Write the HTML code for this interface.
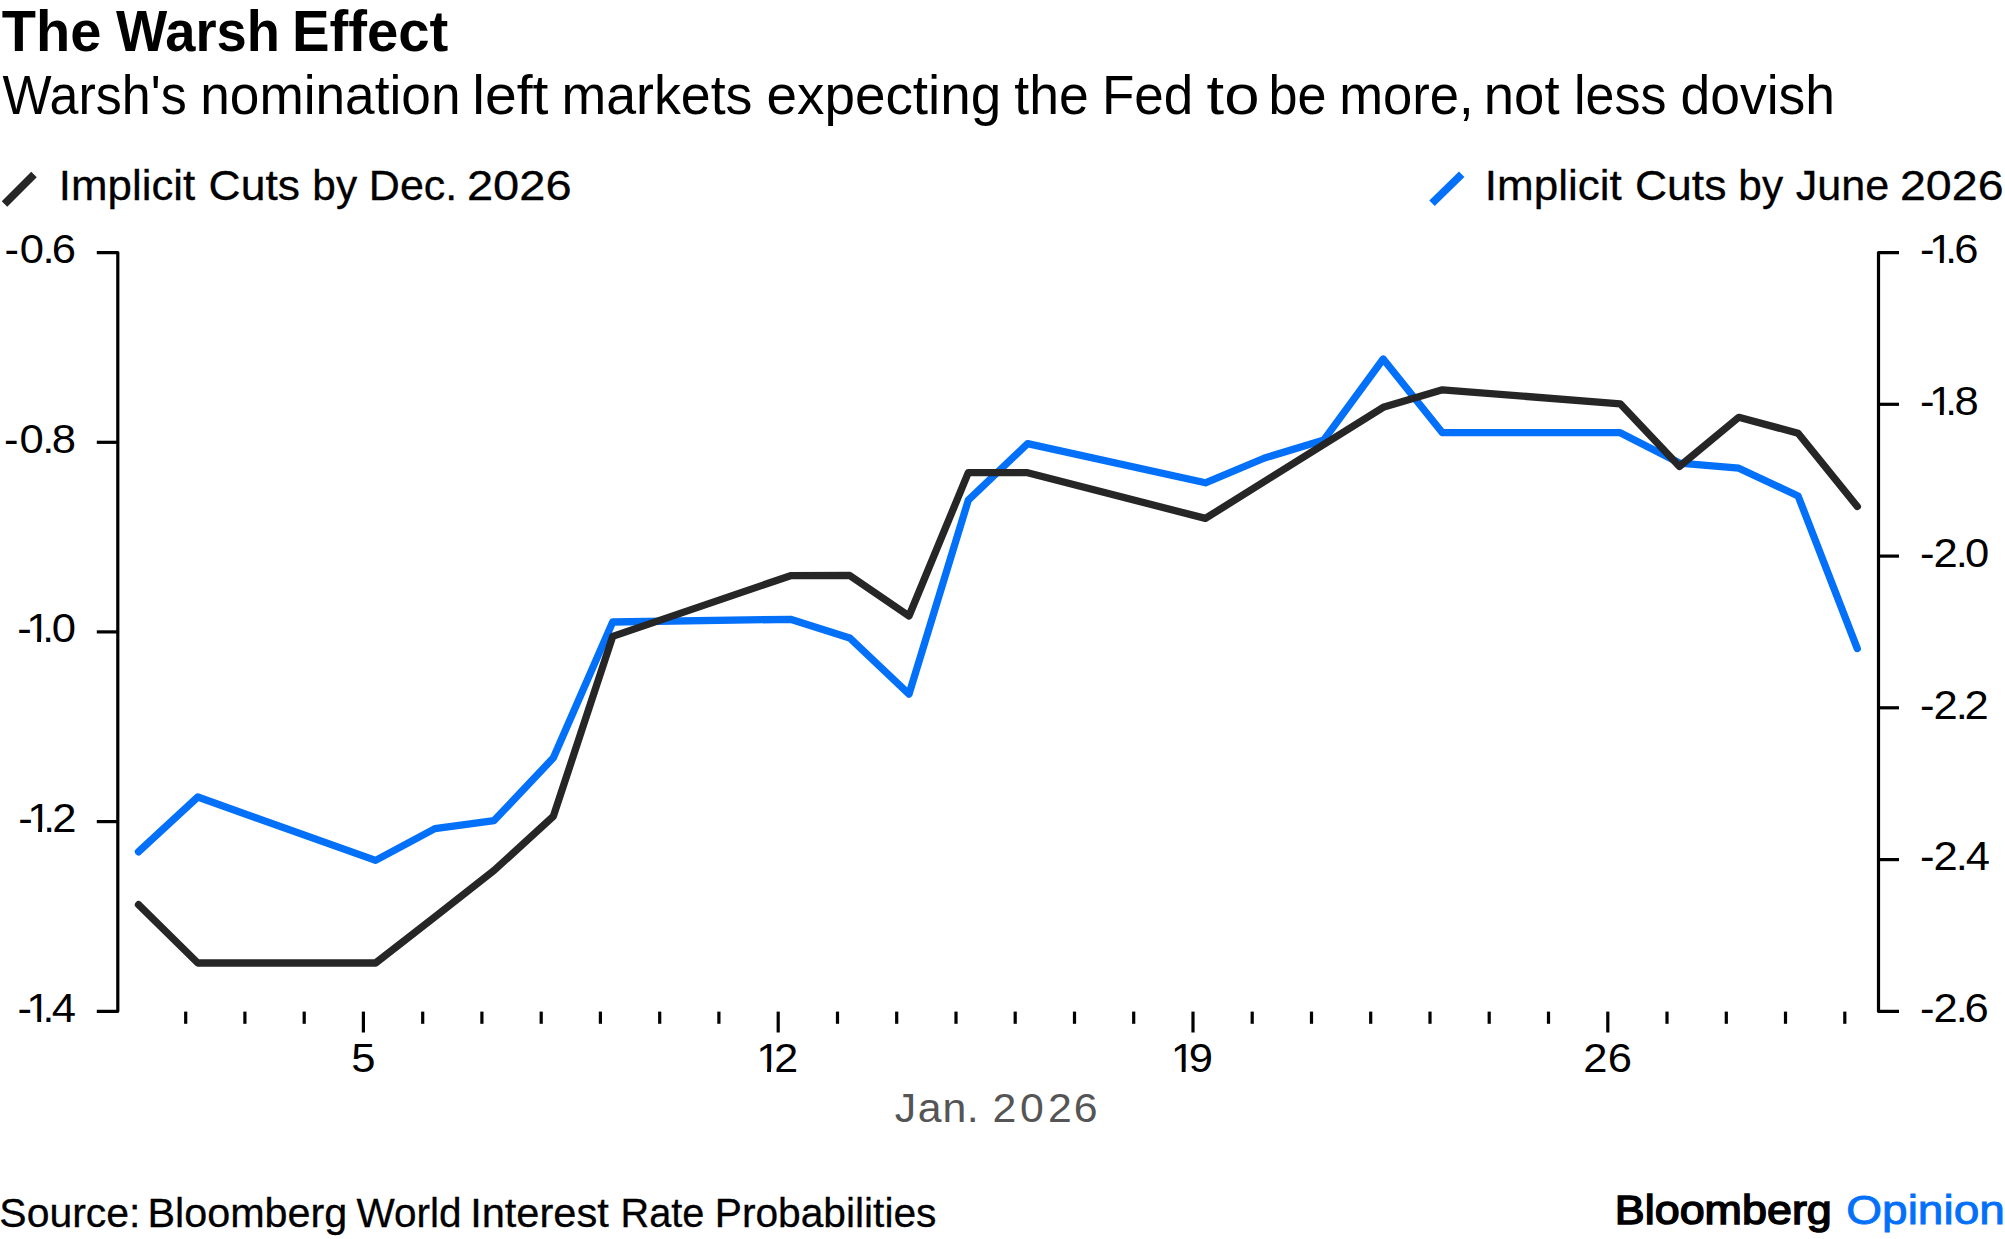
<!DOCTYPE html>
<html lang="en"><head><meta charset="utf-8"><title>The Warsh Effect</title>
<style>
html,body{margin:0;padding:0;background:#fff;}
body{width:2005px;height:1239px;overflow:hidden;}
svg{display:block;font-family:"Liberation Sans",Arial,Helvetica,sans-serif;}
.t{fill:#000;}
.k{fill:#000;font-size:40px;}
</style></head><body>
<svg width="2005" height="1239" viewBox="0 0 2005 1239">
<rect width="2005" height="1239" fill="#fff"/>
<text fill="#000" y="50.8" font-size="57" font-weight="700"><tspan x="1.77" textLength="99.54" lengthAdjust="spacingAndGlyphs">The</tspan> <tspan x="116.05" textLength="163.82" lengthAdjust="spacingAndGlyphs">Warsh</tspan> <tspan x="291.93" textLength="156.45" lengthAdjust="spacingAndGlyphs">Effect</tspan></text>
<text fill="#000" y="114.0" font-size="54.6"><tspan x="2.47" textLength="184.21" lengthAdjust="spacingAndGlyphs">Warsh's</tspan> <tspan x="200.27" textLength="260.19" lengthAdjust="spacingAndGlyphs">nomination</tspan> <tspan x="472.25" textLength="76.17" lengthAdjust="spacingAndGlyphs">left</tspan> <tspan x="561.43" textLength="191.01" lengthAdjust="spacingAndGlyphs">markets</tspan> <tspan x="766.47" textLength="234.77" lengthAdjust="spacingAndGlyphs">expecting</tspan> <tspan x="1014.29" textLength="74.39" lengthAdjust="spacingAndGlyphs">the</tspan> <tspan x="1101.96" textLength="91.26" lengthAdjust="spacingAndGlyphs">Fed</tspan> <tspan x="1206.54" textLength="52.93" lengthAdjust="spacingAndGlyphs">to</tspan> <tspan x="1268.53" textLength="58.09" lengthAdjust="spacingAndGlyphs">be</tspan> <tspan x="1339.21" textLength="134.52" lengthAdjust="spacingAndGlyphs">more,</tspan> <tspan x="1483.78" textLength="75.82" lengthAdjust="spacingAndGlyphs">not</tspan> <tspan x="1574.10" textLength="92.27" lengthAdjust="spacingAndGlyphs">less</tspan> <tspan x="1680.56" textLength="154.41" lengthAdjust="spacingAndGlyphs">dovish</tspan></text>
<line x1="4.5" y1="203.9" x2="34" y2="174.4" stroke="#262626" stroke-width="7.8"/>
<text fill="#000" y="200.2" font-size="43" stroke="#000" stroke-width="0.3"><tspan x="58.85" textLength="136.47" lengthAdjust="spacingAndGlyphs">Implicit</tspan> <tspan x="208.64" textLength="91.36" lengthAdjust="spacingAndGlyphs">Cuts</tspan> <tspan x="312.37" textLength="44.71" lengthAdjust="spacingAndGlyphs">by</tspan> <tspan x="368.87" textLength="88.46" lengthAdjust="spacingAndGlyphs">Dec.</tspan> <tspan x="466.93" textLength="104.63" lengthAdjust="spacingAndGlyphs">2026</tspan></text>
<line x1="1432" y1="203.3" x2="1461.7" y2="174.3" stroke="#0370fa" stroke-width="7.8"/>
<text fill="#000" y="200.2" font-size="43" stroke="#000" stroke-width="0.3"><tspan x="1484.84" textLength="136.99" lengthAdjust="spacingAndGlyphs">Implicit</tspan> <tspan x="1634.94" textLength="91.57" lengthAdjust="spacingAndGlyphs">Cuts</tspan> <tspan x="1738.37" textLength="44.71" lengthAdjust="spacingAndGlyphs">by</tspan> <tspan x="1795.73" textLength="93.39" lengthAdjust="spacingAndGlyphs">June</tspan> <tspan x="1899.96" textLength="103.59" lengthAdjust="spacingAndGlyphs">2026</tspan></text>
<g stroke="#000" stroke-width="3.2" fill="none" stroke-linejoin="round">
<path d="M96.8,252.6 H117.8 V1011.3 H96.8"/>
<path d="M1899.0,252.6 H1878.5 V1011.3 H1899.0"/>
<path d="M96.8,442.3 H117.8"/>
<path d="M96.8,631.9 H117.8"/>
<path d="M96.8,821.6 H117.8"/>
<path d="M1899.0,404.3 H1878.5"/>
<path d="M1899.0,556.1 H1878.5"/>
<path d="M1899.0,707.8 H1878.5"/>
<path d="M1899.0,859.6 H1878.5"/>
<path d="M185.7,1011.6 V1023.8"/>
<path d="M244.9,1011.6 V1023.8"/>
<path d="M304.2,1011.6 V1023.8"/>
<path d="M363.4,1011.6 V1032.5"/>
<path d="M422.7,1011.6 V1023.8"/>
<path d="M481.9,1011.6 V1023.8"/>
<path d="M541.2,1011.6 V1023.8"/>
<path d="M600.4,1011.6 V1023.8"/>
<path d="M659.7,1011.6 V1023.8"/>
<path d="M718.9,1011.6 V1023.8"/>
<path d="M778.2,1011.6 V1032.5"/>
<path d="M837.5,1011.6 V1023.8"/>
<path d="M896.7,1011.6 V1023.8"/>
<path d="M956.0,1011.6 V1023.8"/>
<path d="M1015.2,1011.6 V1023.8"/>
<path d="M1074.5,1011.6 V1023.8"/>
<path d="M1133.7,1011.6 V1023.8"/>
<path d="M1193.0,1011.6 V1032.5"/>
<path d="M1252.2,1011.6 V1023.8"/>
<path d="M1311.5,1011.6 V1023.8"/>
<path d="M1370.7,1011.6 V1023.8"/>
<path d="M1430.0,1011.6 V1023.8"/>
<path d="M1489.2,1011.6 V1023.8"/>
<path d="M1548.5,1011.6 V1023.8"/>
<path d="M1607.8,1011.6 V1032.5"/>
<path d="M1667.0,1011.6 V1023.8"/>
<path d="M1726.3,1011.6 V1023.8"/>
<path d="M1785.5,1011.6 V1023.8"/>
<path d="M1844.8,1011.6 V1023.8"/>
</g>
<text class="k" transform="translate(6.38,263.1) scale(1.09,1)" x="-1.78 12.38 33.23 41.73" y="0">-0.6</text>
<text class="k" transform="translate(6.04,452.8) scale(1.09,1)" x="-1.78 12.38 33.23 42.02" y="0">-0.8</text>
<text class="k" transform="translate(19.26,642.4) scale(1.09,1)" x="-1.78 6.34 20.84 29.72" y="0">-1.0</text>
<rect x="28.69" y="638.86" width="8.44" height="4.39" fill="#fff"/><rect x="40.98" y="638.86" width="5.28" height="4.39" fill="#fff"/>
<text class="k" transform="translate(20.24,832.1) scale(1.09,1)" x="-1.78 6.34 20.84 29.27" y="0">-1.2</text>
<rect x="29.66" y="828.54" width="8.44" height="4.39" fill="#fff"/><rect x="41.96" y="828.54" width="5.28" height="4.39" fill="#fff"/>
<text class="k" transform="translate(19.43,1021.8) scale(1.09,1)" x="-1.78 6.34 20.84 29.72" y="0">-1.4</text>
<rect x="28.86" y="1018.21" width="8.44" height="4.39" fill="#fff"/><rect x="41.15" y="1018.21" width="5.28" height="4.39" fill="#fff"/>
<text class="k" transform="translate(1922.00,263.3) scale(1.09,1)" x="-1.78 6.34 21.03 29.62" y="0">-1.6</text>
<rect x="1931.43" y="259.71" width="8.44" height="4.39" fill="#fff"/><rect x="1943.72" y="259.71" width="5.48" height="4.39" fill="#fff"/>
<text class="k" transform="translate(1922.00,415.0) scale(1.09,1)" x="-1.78 6.34 21.03 29.91" y="0">-1.8</text>
<rect x="1931.43" y="411.45" width="8.44" height="4.39" fill="#fff"/><rect x="1943.72" y="411.45" width="5.48" height="4.39" fill="#fff"/>
<text class="k" transform="translate(1922.00,566.8) scale(1.09,1)" x="-1.78 10.47 30.93 39.54" y="0">-2.0</text>
<text class="k" transform="translate(1922.00,718.5) scale(1.09,1)" x="-1.78 10.47 30.93 39.09" y="0">-2.2</text>
<text class="k" transform="translate(1922.00,870.3) scale(1.09,1)" x="-1.78 10.47 30.93 40.18" y="0">-2.4</text>
<text class="k" transform="translate(1922.00,1022.0) scale(1.09,1)" x="-1.78 10.47 30.93 39.07" y="0">-2.6</text>
<text class="k" transform="translate(353.08,1072.3) scale(1.09,1)" x="-1.60" y="0">5</text>
<text class="k" transform="translate(760.32,1072.3) scale(1.09,1)" x="-3.85 12.58" y="0">12</text>
<rect x="758.64" y="1068.71" width="8.44" height="4.39" fill="#fff"/><rect x="770.94" y="1068.71" width="5.58" height="4.39" fill="#fff"/>
<text class="k" transform="translate(1174.96,1072.3) scale(1.09,1)" x="-3.85 12.71" y="0">19</text>
<rect x="1173.28" y="1068.71" width="8.44" height="4.39" fill="#fff"/><rect x="1185.58" y="1068.71" width="8.10" height="4.39" fill="#fff"/>
<text class="k" transform="translate(1585.51,1072.3) scale(1.09,1)" x="-2.01 20.32" y="0">26</text>
<text fill="#555" font-size="40" transform="translate(895.5,1121.9) scale(1.07,1)" x="-0.62 20.82 43.98 66.53 80.84 90.70 116.38 142.47 166.57" y="0">Jan. 2026</text>
<polyline points="138.5,851.8 197.8,797.0 375.6,860.4 434.9,828.6 494.1,820.6 553.4,757.8 612.7,622.0 790.5,619.3 849.7,637.9 909.0,694.1 968.3,500.2 1027.6,443.6 1205.4,482.8 1264.6,458.0 1323.9,439.9 1383.2,359.0 1442.4,432.7 1620.2,432.7 1679.5,463.1 1738.8,468.2 1798.1,496.0 1857.3,648.6" fill="none" stroke="#0370fa" stroke-width="7.3" stroke-linecap="round" stroke-linejoin="round"/>
<polyline points="138.5,904.7 197.8,963.0 375.6,963.0 434.9,916.8 494.1,870.4 553.4,816.2 612.7,636.4 790.5,575.7 849.7,575.5 909.0,616.0 968.3,472.7 1027.6,472.7 1205.4,518.4 1383.2,407.3 1442.4,389.8 1620.2,403.8 1679.5,466.4 1738.8,417.3 1798.1,433.2 1857.3,506.5" fill="none" stroke="#262626" stroke-width="7.3" stroke-linecap="round" stroke-linejoin="round"/>
<text fill="#000" y="1226.9" font-size="41" stroke="#000" stroke-width="0.3"><tspan x="-0.66" textLength="141.10" lengthAdjust="spacingAndGlyphs">Source:</tspan> <tspan x="147.51" textLength="199.75" lengthAdjust="spacingAndGlyphs">Bloomberg</tspan> <tspan x="356.42" textLength="105.09" lengthAdjust="spacingAndGlyphs">World</tspan> <tspan x="470.17" textLength="138.54" lengthAdjust="spacingAndGlyphs">Interest</tspan> <tspan x="620.55" textLength="83.82" lengthAdjust="spacingAndGlyphs">Rate</tspan> <tspan x="714.76" textLength="221.71" lengthAdjust="spacingAndGlyphs">Probabilities</tspan></text>
<text class="t" x="1614.8" y="1223.5" font-size="41.5" stroke="#000" stroke-width="1.5" stroke-linejoin="miter" textLength="217" lengthAdjust="spacingAndGlyphs">Bloomberg</text>
<text x="1846.3" y="1223.5" font-size="41.5" fill="#0370fa" stroke="#0370fa" stroke-width="0.9" textLength="158.5" lengthAdjust="spacingAndGlyphs">Opinion</text>
</svg></body></html>
